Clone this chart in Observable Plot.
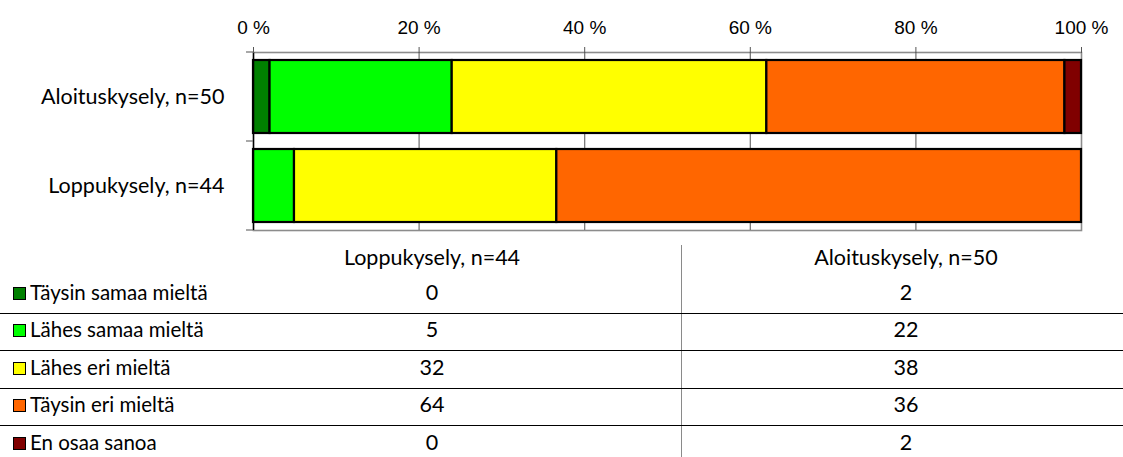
<!DOCTYPE html>
<html>
<head>
<meta charset="utf-8">
<script src="https://cdn.jsdelivr.net/npm/d3@7"></script>
<script src="https://cdn.jsdelivr.net/npm/@observablehq/plot@0.6"></script>
<style>
  html, body { margin: 0; padding: 0; background: #fff; }
  body { width: 1123px; height: 457px; overflow: hidden; font-family: Lato, sans-serif; color: #000; }
  #chart svg { display: block; }
  #table { position: relative; width: 1123px; height: 217px; overflow: hidden; font-family: Lato, sans-serif; font-size: 21.5px; }
  .cell { position: absolute; height: 30px; line-height: 30px; white-space: nowrap; }
  .label { font-size: 20.5px; }
  .num { text-align: center; }
  .hline { position: absolute; left: 0; width: 1123px; height: 0; border-top: 1px solid #000; }
  .vline { position: absolute; width: 0; border-left: 1.6px solid #8a8a8a; }
  .swatch { position: absolute; width: 11px; height: 11px; border: 1px solid #000; }
</style>
</head>
<body>
<div id="chart"></div>
<div id="table"></div>
<script>
// Surveys (bars, top to bottom) and answer categories (stack order, left to right)
const surveys = ["Aloituskysely, n=50", "Loppukysely, n=44"];
const answers = ["Täysin samaa mieltä", "Lähes samaa mieltä", "Lähes eri mieltä", "Täysin eri mieltä", "En osaa sanoa"];
const answerColors = ["#008000", "#00ff00", "#ffff00", "#ff6600", "#800000"];

// Share of respondents per answer (%)
const aloitusValues = [2, 22, 38, 36, 2];
const loppuValues = [0, 5, 32, 64, 0];

// Axis ticks (%) and table column order
const xTicks = [0, 20, 40, 60, 80, 100];
const tableColumns = ["Loppukysely, n=44", "Aloituskysely, n=50"];

const valuesBySurvey = {
  "Aloituskysely, n=50": aloitusValues,
  "Loppukysely, n=44": loppuValues
};

const rows = surveys.flatMap(s => answers.map((a, i) => ({survey: s, answer: a, value: valuesBySurvey[s][i]})));

// Small tick marks on the left edge at the boundaries between the survey bands
function bandBoundaryTicks(index, scales, values, dims) {
  const y = scales.y;
  const bw = typeof y.bandwidth === "function" ? y.bandwidth() : scales.scales.y.bandwidth;
  const step = typeof y.step === "function" ? y.step() : scales.scales.y.step;
  const gap = (step - bw) / 2;
  const pos = surveys.map(s => y(s) - gap).concat([y(surveys[surveys.length - 1]) + bw + gap]);
  const g = d3.create("svg:g");
  g.selectAll("line").data(pos).join("line")
    .attr("x1", dims.marginLeft - 7).attr("x2", dims.marginLeft)
    .attr("y1", d => d).attr("y2", d => d)
    .attr("stroke", "#6e6e6e").attr("stroke-width", 1.2);
  return g.node();
}

const chart = Plot.plot({
  width: 1123,
  height: 240,
  marginLeft: 253,
  marginRight: 42,
  marginTop: 52,
  marginBottom: 10,
  style: {background: "#fff"},
  x: {domain: [0, 1], label: null},
  y: {domain: surveys, paddingInner: 0.18, paddingOuter: 0.09, label: null},
  color: {domain: answers, range: answerColors},
  marks: [
    Plot.frame({stroke: "#8c8c8c", strokeWidth: 1.6}),
    Plot.ruleX(xTicks.slice(1, -1).map(t => t / 100), {stroke: "#6e6e6e", strokeWidth: 1.2}),
    Plot.barX(rows.filter(d => d.value > 0), Plot.stackX({
      x: "value", y: "survey", fill: "answer", offset: "normalize",
      stroke: "#000", strokeWidth: 2.2
    })),
    Plot.ruleX([0], {stroke: "#000", strokeWidth: 1.4}),
    Plot.axisX(xTicks.map(t => t / 100), {
      anchor: "top", tickSize: 6, tickPadding: 13, label: null,
      tickFormat: d => `${Math.round(d * 100)} %`,
      fontSize: 19, fontFamily: "Liberation Sans, Arial, sans-serif",
      stroke: "#555", fill: "#000"
    }),
    Plot.axisY({
      tickSize: 0, tickPadding: 29, label: null,
      fontSize: 21.5, fontFamily: "Lato, sans-serif", fill: "#000"
    }),
    bandBoundaryTicks
  ]
});
document.getElementById("chart").append(chart);

// Data table with legend swatches, laid out below the chart
const tbl = d3.select("#table");
const headerY = 18;          // header row centre
const firstRowY = 53;        // first data row centre
const rowPitch = 37.5;
const colCenters = [432, 906];
const splitX = 681;

tbl.append("div").attr("class", "vline")
  .style("left", `${splitX}px`).style("top", "5px").style("height", "212px");

tableColumns.forEach((c, i) => {
  tbl.append("div").attr("class", "cell num")
    .style("left", `${colCenters[i] - 150}px`).style("width", "300px")
    .style("top", `${headerY - 16.5}px`).text(c);
});

answers.forEach((a, j) => {
  const cy = firstRowY + j * rowPitch;
  tbl.append("div").attr("class", "swatch")
    .style("left", "13px").style("top", `${cy - 6.5}px`)
    .style("background", answerColors[j]);
  tbl.append("div").attr("class", "cell label")
    .style("left", "30px").style("top", `${cy - 16.5}px`).text(a);
  tableColumns.forEach((c, i) => {
    tbl.append("div").attr("class", "cell num")
      .style("left", `${colCenters[i] - 100}px`).style("width", "200px")
      .style("top", `${cy - 16.5}px`).text(valuesBySurvey[c][j]);
  });
  if (j < answers.length - 1) {
    tbl.append("div").attr("class", "hline").style("top", `${cy + 19.5}px`);
  }
});
</script>
</body>
</html>
